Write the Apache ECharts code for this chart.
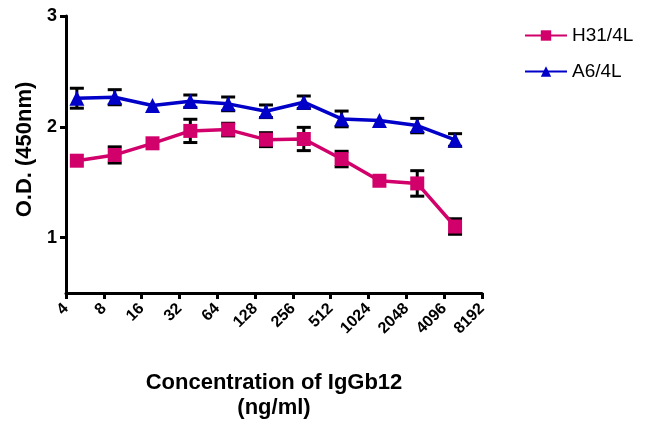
<!DOCTYPE html>
<html>
<head>
<meta charset="utf-8">
<script src="https://cdn.jsdelivr.net/npm/echarts@6/dist/echarts.min.js"></script>
<style>
  html, body { margin: 0; padding: 0; background: #fff; }
  #chart { width: 647px; height: 428px; }
</style>
</head>
<body>
<div id="chart"></div>
<script>
// concentrations (ng/ml), serial 2-fold dilutions from 5000
var conc = [4.88, 9.77, 19.53, 39.06, 78.13, 156.25, 312.5, 625, 1250, 2500, 5000];
var xTicks = [4, 8, 16, 32, 64, 128, 256, 512, 1024, 2048, 4096, 8192];
var yTicks = [1, 2, 3];

var h31Mean = [1.694, 1.746, 1.851, 1.963, 1.975, 1.884, 1.890, 1.709, 1.513, 1.489, 1.100];
var h31Err  = [0,     0.073, 0,     0.105, 0.057, 0.063, 0.105, 0.070, 0,     0.115, 0.070];

var a6Mean = [2.258, 2.267, 2.192, 2.231, 2.207, 2.140, 2.222, 2.071, 2.056, 2.011, 1.881];
var a6Err  = [0.090, 0.068, 0,     0.056, 0.062, 0.057, 0.056, 0.071, 0,     0.065, 0.057];

var pink = '#d1006b';
var blue = '#0000c8';

function pts(m) {
  return conc.map(function (c, i) { return [c, m[i]]; });
}
function errData(m, e) {
  var out = [];
  for (var i = 0; i < conc.length; i++) {
    if (e[i] > 0) out.push([conc[i], m[i] - e[i], m[i] + e[i]]);
  }
  return out;
}

// error bars drawn with api.coord so they follow the axes
function errorBar(params, api) {
  var lo = api.coord([api.value(0), api.value(1)]);
  var hi = api.coord([api.value(0), api.value(2)]);
  var w = 7;
  var st = { stroke: '#000', lineWidth: 3 };
  return {
    type: 'group',
    children: [
      { type: 'line', shape: { x1: hi[0], y1: hi[1], x2: lo[0], y2: lo[1] }, style: st },
      { type: 'line', shape: { x1: hi[0] - w, y1: hi[1], x2: hi[0] + w, y2: hi[1] }, style: st },
      { type: 'line', shape: { x1: lo[0] - w, y1: lo[1], x2: lo[0] + w, y2: lo[1] }, style: st }
    ]
  };
}

var chart = echarts.init(document.getElementById('chart'));
var option = {
  backgroundColor: '#ffffff',
  animation: false,
  grid: { left: 66, right: 165, top: 16, bottom: 135, containLabel: false },
  legend: {
    orient: 'vertical',
    left: 519,
    top: 21,
    itemGap: 17,
    itemWidth: 42,
    itemHeight: 13,
    textStyle: { fontFamily: 'Liberation Sans', fontSize: 19, color: '#000' },
    data: ['H31/4L', 'A6/4L']
  },
  xAxis: {
    type: 'log',
    logBase: 2,
    min: 4,
    max: 8192,
    name: 'Concentration of IgGb12\n(ng/ml)',
    nameLocation: 'middle',
    nameGap: 77,
    nameTextStyle: { fontFamily: 'Liberation Sans', fontWeight: 'bold', fontSize: 22, color: '#000', lineHeight: 25 },
    axisLine: { lineStyle: { color: '#000', width: 3 } },
    axisTick: { show: true, length: 6, lineStyle: { color: '#000', width: 3 }, customValues: xTicks },
    axisLabel: {
      rotate: 45,
      color: '#000',
      fontFamily: 'Liberation Sans',
      fontWeight: 'bold',
      fontSize: 16,
      margin: 13,
      customValues: xTicks,
      formatter: function (v) { return String(Math.round(v)); }
    },
    splitLine: { show: false }
  },
  yAxis: {
    type: 'value',
    min: 0.5,
    max: 3,
    interval: 0.5,
    name: 'O.D. (450nm)',
    nameLocation: 'middle',
    nameGap: 30,
    nameTextStyle: { fontFamily: 'Liberation Sans', fontWeight: 'bold', fontSize: 22, color: '#000', padding: [0, 0, 0, 10] },
    axisLine: { show: true, lineStyle: { color: '#000', width: 3 } },
    axisTick: { show: true, length: 6, lineStyle: { color: '#000', width: 3 }, customValues: yTicks },
    axisLabel: {
      color: '#000',
      fontFamily: 'Liberation Sans',
      fontWeight: 'bold',
      fontSize: 18,
      margin: 9,
      customValues: yTicks
    },
    splitLine: { show: false }
  },
  series: [
    {
      name: 'H31/4L',
      type: 'line',
      data: pts(h31Mean),
      color: pink,
      lineStyle: { width: 3.5, color: pink },
      symbol: 'rect',
      symbolSize: 14,
      itemStyle: { color: pink },
      z: 3
    },
    {
      name: 'A6/4L',
      type: 'line',
      data: pts(a6Mean),
      color: blue,
      lineStyle: { width: 3.5, color: blue },
      symbol: 'triangle',
      symbolSize: 15,
      itemStyle: { color: blue },
      z: 3
    },
    {
      type: 'custom',
      renderItem: errorBar,
      data: errData(h31Mean, h31Err),
      encode: { x: 0, y: [1, 2] },
      z: 2
    },
    {
      type: 'custom',
      renderItem: errorBar,
      data: errData(a6Mean, a6Err),
      encode: { x: 0, y: [1, 2] },
      z: 2
    }
  ]
};
chart.setOption(option);
</script>
</body>
</html>
